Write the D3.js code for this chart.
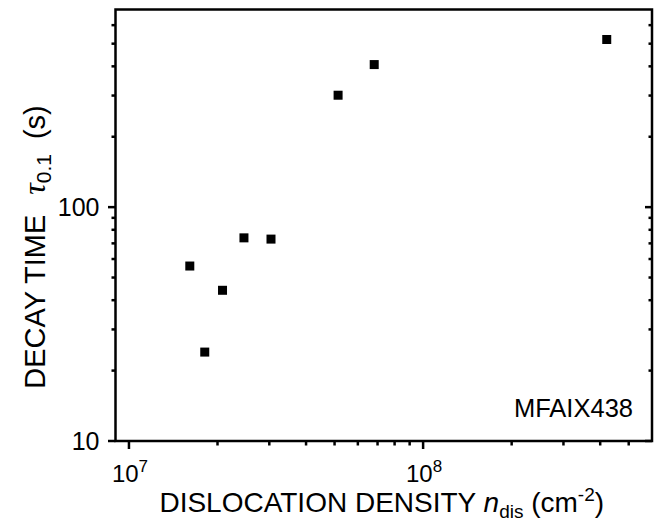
<!DOCTYPE html>
<meta charset="utf-8">
<style>
body { margin: 0; background: #fff; }
svg text { font-family: "Liberation Sans", Arial, sans-serif; fill: #000; }
.frame { fill: none; stroke: #000; stroke-width: 2.5px; }
.tick { stroke: #000; stroke-width: 2.5px; }
.pt { fill: #000; }
</style>
<svg width="657" height="523"></svg>
<script src="https://cdn.jsdelivr.net/npm/d3@7"></script>
<script>
// data
var density = [1.61e7, 1.81e7, 2.08e7, 2.46e7, 3.04e7, 5.14e7, 6.82e7, 4.21e8];
var decay   = [56, 24.0, 44.1, 73.9, 73.0, 301, 407, 521];
var xMajor = [1e7, 1e8], xExp = [7, 8];
var xMinor = [2e7, 3e7, 4e7, 5e7, 6e7, 7e7, 8e7, 9e7, 2e8, 3e8, 4e8, 5e8];
var yMajor = [10, 100], yLabels = ["10", "100"];
var yMinor = [20, 30, 40, 50, 60, 70, 80, 90, 200, 300, 400, 500, 600];
var sampleName = "MFAIX438";

var svg = d3.select("svg"),
    margin = {top: 9.5, right: 5, bottom: 82, left: 115.5},
    width = +svg.attr("width") - margin.left - margin.right,
    height = +svg.attr("height") - margin.top - margin.bottom;

var x = d3.scaleLog().domain([9e6, 6e8]).range([0, width]),
    y = d3.scaleLog().domain([10, 700]).range([height, 0]);

var g = svg.append("g")
    .attr("transform", "translate(" + margin.left + "," + margin.top + ")");

// bottom ticks (outward)
g.selectAll(".xmaj").data(xMajor).enter().append("line")
  .attr("class", "tick")
  .attr("x1", function(d) { return x(d); }).attr("x2", function(d) { return x(d); })
  .attr("y1", height).attr("y2", height + 8);
g.selectAll(".xmin").data(xMinor).enter().append("line")
  .attr("class", "tick")
  .attr("x1", function(d) { return x(d); }).attr("x2", function(d) { return x(d); })
  .attr("y1", height).attr("y2", height + 4.5);

// left ticks (outward), right ticks (inward)
g.selectAll(".ymaj").data(yMajor).enter().append("line")
  .attr("class", "tick")
  .attr("y1", function(d) { return y(d); }).attr("y2", function(d) { return y(d); })
  .attr("x1", -7.5).attr("x2", 0);
g.selectAll(".ymin").data(yMinor).enter().append("line")
  .attr("class", "tick")
  .attr("y1", function(d) { return y(d); }).attr("y2", function(d) { return y(d); })
  .attr("x1", -4).attr("x2", 0);
g.selectAll(".ymajr").data(yMajor).enter().append("line")
  .attr("class", "tick")
  .attr("y1", function(d) { return y(d); }).attr("y2", function(d) { return y(d); })
  .attr("x1", width - 7).attr("x2", width);
g.selectAll(".yminr").data(yMinor).enter().append("line")
  .attr("class", "tick")
  .attr("y1", function(d) { return y(d); }).attr("y2", function(d) { return y(d); })
  .attr("x1", width - 3.5).attr("x2", width);

g.append("rect").attr("class", "frame")
  .attr("width", width).attr("height", height);

// tick labels
var xl = g.selectAll(".xlab").data(xMajor).enter().append("text")
  .attr("x", function(d) { return x(d) + 1; })
  .attr("y", height + 41)
  .attr("text-anchor", "middle")
  .style("font-size", "24px");
xl.append("tspan").text("10");
xl.append("tspan").attr("dy", -10).style("font-size", "17px")
  .text(function(d, i) { return xExp[i]; });

g.selectAll(".ylab").data(yMajor).enter().append("text")
  .attr("x", -16)
  .attr("y", function(d) { return y(d); })
  .attr("dy", "0.36em")
  .attr("text-anchor", "end")
  .style("font-size", "25px")
  .text(function(d, i) { return yLabels[i]; });

// points
g.selectAll(".pt").data(density).enter().append("rect")
  .attr("class", "pt")
  .attr("x", function(d) { return x(d) - 4.5; })
  .attr("y", function(d, i) { return y(decay[i]) - 4.5; })
  .attr("width", 9).attr("height", 9);

g.append("text")
  .attr("x", width - 19).attr("y", height - 24)
  .attr("text-anchor", "end")
  .style("font-size", "25.5px")
  .text(sampleName);

// axis titles
var xt = svg.append("text")
  .attr("x", margin.left + width / 2 - 2).attr("y", 512)
  .attr("text-anchor", "middle")
  .style("font-size", "28px");
xt.append("tspan").text("DISLOCATION DENSITY ");
xt.append("tspan").style("font-style", "italic").text("n");
xt.append("tspan").attr("dy", 6).style("font-size", "19px").text("dis");
xt.append("tspan").attr("dy", -6).text(" (cm");
xt.append("tspan").attr("dy", -11).style("font-size", "19px").text("-2");
xt.append("tspan").attr("dy", 11).text(")");

var yt = svg.append("text")
  .attr("transform", "translate(45," + 247 + ") rotate(-90)")
  .attr("text-anchor", "middle")
  .style("font-size", "29px");
yt.append("tspan").text("DECAY TIME");
yt.append("tspan").attr("dx", 20).style("font-family", "'Liberation Serif', serif").style("font-style", "italic").style("font-size", "32px").text("τ");
yt.append("tspan").attr("dy", 6).style("font-size", "21px").text("0.1");
yt.append("tspan").attr("dx", 15).attr("dy", -6).text("(s)");
</script>
